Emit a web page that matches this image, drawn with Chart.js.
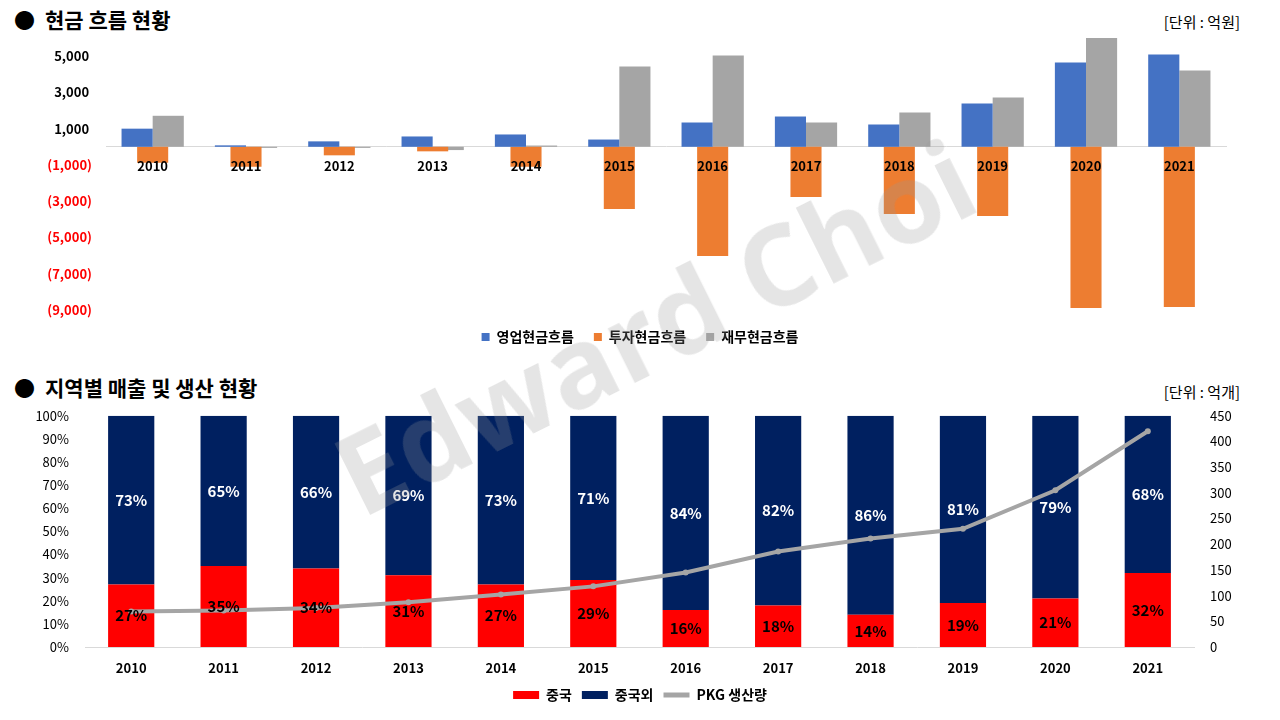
<!DOCTYPE html>
<html>
<head>
<meta charset="utf-8">
<script src="https://cdn.jsdelivr.net/npm/chart.js@4.4.1/dist/chart.umd.min.js"></script>
<style>
  body { margin: 0; width: 1280px; height: 720px; background: #fff; overflow: hidden; position: relative;
         font-family: "Noto Sans CJK KR", "Noto Sans", sans-serif; }
  .title { position: absolute; left: 14px; font-size: 21px; font-weight: bold; color: #000; }
  .title span { display: inline-block; width: 31px; }
  .unit { position: absolute; right: 40px; font-size: 15px; color: #000; }
  canvas { position: absolute; left: 0; }
  #mark { position: absolute; left: 360px; top: 517px; transform-origin: 0 0; transform: rotate(-26.5deg) translateY(-86%);
          font-family: "Open Sans", sans-serif; font-weight: bold; font-size: 112px; line-height: 1; white-space: nowrap;
          color: rgba(150,150,150,0.25); pointer-events: none; }
</style>
</head>
<body>
<div class="title" style="top:4px"><span>●</span>현금 흐름 현황</div>
<div class="unit" style="top:11px">[단위 : 억원]</div>
<canvas id="cashChart" width="1280" height="360" style="top:0"></canvas>

<div class="title" style="top:372px"><span>●</span>지역별 매출 및 생산 현황</div>
<div class="unit" style="top:381px">[단위 : 억개]</div>
<canvas id="regionChart" width="1280" height="320" style="top:400px"></canvas>

<div id="mark">Edward Choi</div>

<script>
// ---- data ----
const years = ['2010','2011','2012','2013','2014','2015','2016','2017','2018','2019','2020','2021'];

// 현금 흐름 (억원)
const opCash  = [1000, 80, 300, 570, 680, 400, 1340, 1670, 1230, 2390, 4650, 5090];
const invCash = [-880, -1100, -470, -250, -1100, -3430, -6020, -2770, -3700, -3820, -8890, -8830];
const finCash = [1710, -60, -60, -180, 70, 4430, 5040, 1340, 1890, 2720, 6000, 4210];
const cashTicks = [5000, 3000, 1000, -1000, -3000, -5000, -7000, -9000];

// 지역별 매출 비중 (%) / PKG 생산량 (억개)
const chinaPct = [27, 35, 34, 31, 27, 29, 16, 18, 14, 19, 21, 32];
const otherPct = [73, 65, 66, 69, 73, 71, 84, 82, 86, 81, 79, 68];
const pkgOutput = [69, 71, 76, 87, 102, 118, 145, 186, 211, 230, 305, 420];

const FONT = '"Noto Sans CJK KR", "Noto Sans", sans-serif';

function fmtNum(v) {
    const s = Math.abs(v).toLocaleString('en-US');
    return v < 0 ? '(' + s + ')' : s + ' ';
}

// top chart
new Chart(document.getElementById('cashChart'), {
    type: 'bar',
    data: {
        labels: years,
        datasets: [
            { label: '영업현금흐름', data: opCash, backgroundColor: '#4472C4',
              categoryPercentage: 0.667, barPercentage: 1.0 },
            { label: '투자현금흐름', data: invCash, backgroundColor: '#ED7D31', grouped: false,
              categoryPercentage: 0.333, barPercentage: 1.0 },
            { label: '재무현금흐름', data: finCash, backgroundColor: '#A5A5A5',
              categoryPercentage: 0.667, barPercentage: 1.0 },
        ]
    },
    options: {
        responsive: false,
        animation: false,
        layout: { padding: { top: 38, left: 0, right: 0, bottom: 6 } },
        scales: {
            x: {
                type: 'category',
                position: { y: 0 },
                grid: { display: false },
                border: { color: '#D9D9D9', width: 1 },
                ticks: { z: 1, color: '#000', font: { family: FONT, size: 13, weight: 'bold' }, padding: 3 }
            },
            y: {
                min: -9000, max: 6000,
                grid: { display: false },
                border: { display: false },
                afterBuildTicks: (scale) => { scale.ticks = cashTicks.map(v => ({ value: v })); },
                afterFit: (scale) => { scale.width = 106; },
                ticks: {
                    padding: 6,
                    font: { family: FONT, size: 13, weight: 'bold' },
                    color: (c) => c.tick.value < 0 ? '#FF0000' : '#000',
                    callback: (v) => fmtNum(v)
                }
            },
            spacer: {
                position: 'right', min: 0, max: 1,
                grid: { display: false }, border: { display: false },
                ticks: { display: false },
                afterFit: (scale) => { scale.width = 54; }
            }
        },
        plugins: {
            legend: {
                position: 'bottom',
                labels: { boxWidth: 8, boxHeight: 8, padding: 20, color: '#000',
                          font: { family: FONT, size: 14, weight: 'bold' } }
            },
            tooltip: { enabled: false }
        }
    }
});

// data labels for the stacked bars
const pctLabels = {
    id: 'pctLabels',
    afterDatasetsDraw(chart) {
        const ctx = chart.ctx;
        ctx.save();
        ctx.font = 'bold 15px ' + FONT;
        ctx.textAlign = 'center';
        ctx.textBaseline = 'middle';
        [0, 1].forEach(di => {
            const meta = chart.getDatasetMeta(di);
            const ds = chart.data.datasets[di];
            ctx.fillStyle = di === 0 ? '#000' : '#fff';
            meta.data.forEach((bar, i) => {
                ctx.fillText(ds.data[i] + '%', bar.x, (bar.y + bar.base) / 2);
            });
        });
        ctx.restore();
    }
};

// bottom chart
new Chart(document.getElementById('regionChart'), {
    type: 'bar',
    data: {
        labels: years,
        datasets: [
            { label: '중국', data: chinaPct, backgroundColor: '#FF0000', yAxisID: 'y',
              categoryPercentage: 0.5, barPercentage: 1.0, order: 1 },
            { label: '중국외', data: otherPct, backgroundColor: '#002060', yAxisID: 'y',
              categoryPercentage: 0.5, barPercentage: 1.0, order: 1 },
            { label: 'PKG 생산량', type: 'line', data: pkgOutput, yAxisID: 'y1', order: 0,
              borderColor: '#A5A5A5', backgroundColor: '#A5A5A5', borderWidth: 4,
              pointRadius: 3, pointBackgroundColor: '#A5A5A5', pointBorderWidth: 0, tension: 0 }
        ]
    },
    options: {
        responsive: false,
        animation: false,
        layout: { padding: { top: 10, left: 0, right: 0, bottom: 8 } },
        scales: {
            x: {
                stacked: true,
                grid: { display: false },
                border: { color: '#D9D9D9', width: 1 },
                ticks: { color: '#000', font: { family: FONT, size: 13, weight: 'bold' }, padding: 5 },
                afterFit: (scale) => { scale.height = 31; }
            },
            y: {
                stacked: true, min: 0, max: 100,
                grid: { display: false }, border: { display: false },
                afterFit: (scale) => { scale.width = 85; },
                ticks: { stepSize: 10, padding: 8, color: '#000',
                         font: { family: FONT, size: 13 }, callback: (v) => v + '%' }
            },
            y1: {
                position: 'right', min: 0, max: 450,
                grid: { display: false }, border: { display: false },
                afterFit: (scale) => { scale.width = 86; },
                ticks: { stepSize: 50, padding: 8, color: '#000', font: { family: FONT, size: 13 } }
            }
        },
        plugins: {
            legend: {
                position: 'bottom',
                labels: {
                    usePointStyle: true, pointStyleWidth: 26, boxHeight: 8, padding: 10, color: '#000',
                    font: { family: FONT, size: 14, weight: 'bold' },
                    sort: (a, b) => a.datasetIndex - b.datasetIndex,
                    generateLabels: (chart) => {
                        const items = Chart.defaults.plugins.legend.labels.generateLabels(chart);
                        items.forEach(it => {
                            if (it.datasetIndex === 2) { it.pointStyle = 'line'; it.lineWidth = 5; it.strokeStyle = '#A5A5A5'; }
                            else { it.pointStyle = 'rect'; it.lineWidth = 0; }
                        });
                        return items;
                    }
                }
            },
            tooltip: { enabled: false }
        }
    },
    plugins: [pctLabels]
});
</script>
</body>
</html>
